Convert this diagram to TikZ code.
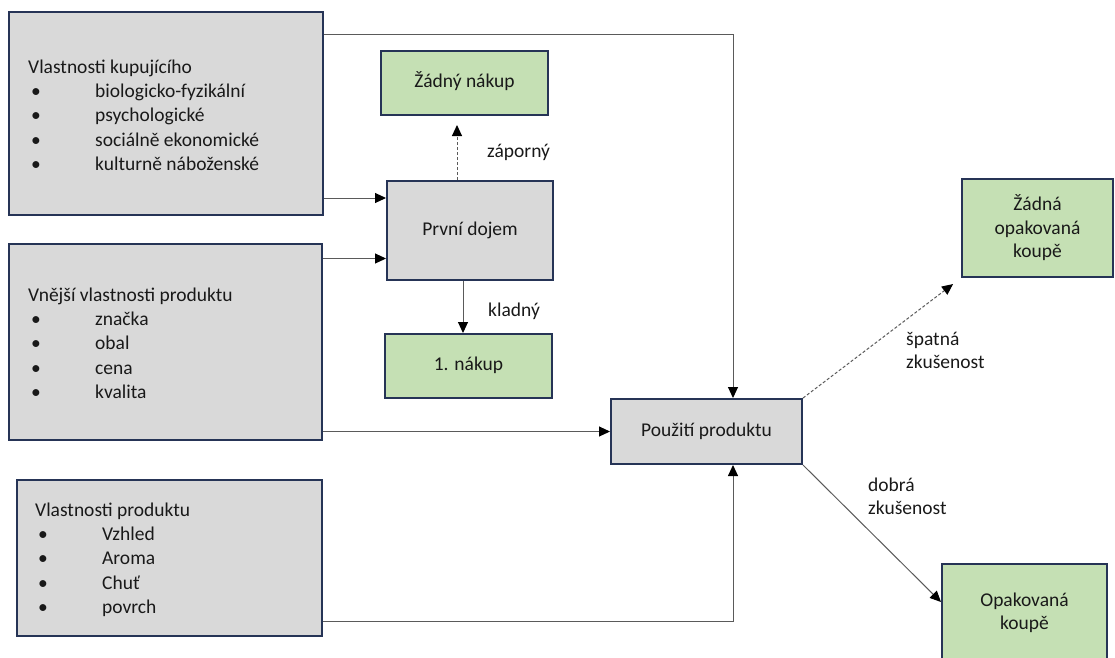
\documentclass[tikz,border=0pt]{standalone}
\usepackage{fontspec}
\setmainfont{Carlito}
\usetikzlibrary{arrows.meta}
\definecolor{boxgray}{RGB}{217,217,217}
\definecolor{boxgreen}{RGB}{197,224,180}
\definecolor{navy}{RGB}{38,52,86}
\definecolor{linegray}{RGB}{90,90,90}
\definecolor{txt}{RGB}{25,25,25}
\newcommand\bitem[1]{\hspace*{3pt}\makebox[64pt][l]{\textbullet}#1}
\tikzset{
  box/.style={draw=navy, line width=2pt, inner sep=0pt, text=txt, align=center,
    font=\fontsize{19.5}{23.5}\selectfont},
  oneline/.style={text height=13pt, text depth=4pt},
  graybox/.style={box, fill=boxgray},
  greenbox/.style={box, fill=boxgreen},
  listtext/.style={anchor=base west, inner sep=0pt, text=txt, font=\fontsize{19.5}{24.4}\selectfont},
  lbl/.style={anchor=base west, inner sep=0pt, text=txt, font=\fontsize{19.5}{23.5}\selectfont},
  arr/.style={draw=linegray, line width=1pt, -{Triangle[length=11pt,width=10pt,color=black]}},
  dashline/.style={dash pattern=on 3pt off 2pt}
}
\begin{document}
\begin{tikzpicture}[x=1pt,y=-1pt]
\useasboundingbox (0,0) rectangle (1115,657);
% left boxes
\node[graybox, minimum width=314pt, minimum height=203pt] (b1) at (166,113.5) {};
\node[graybox, minimum width=313pt, minimum height=196pt] (b2) at (165.5,342) {};
\node[graybox, minimum width=305pt, minimum height=156pt] (b3) at (169.5,558) {};
\node[listtext] (t1) at (28,73) {\begin{tabular}[t]{@{}l@{}}Vlastnosti kupujícího\\
\bitem{biologicko-fyzikální}\\ \bitem{psychologické}\\ \bitem{sociálně ekonomické}\\ \bitem{kulturně náboženské}\end{tabular}};
\node[listtext] (t2) at (28,301) {\begin{tabular}[t]{@{}l@{}}Vnější vlastnosti produktu\\
\bitem{značka}\\ \bitem{obal}\\ \bitem{cena}\\ \bitem{kvalita}\end{tabular}};
\node[listtext] (t3) at (35,516) {\begin{tabular}[t]{@{}l@{}}Vlastnosti produktu\\
\bitem{Vzhled}\\ \bitem{Aroma}\\ \bitem{Chuť}\\ \bitem{povrch}\end{tabular}};
% middle boxes
\node[greenbox, oneline, minimum width=167pt, minimum height=64pt] (zn) at (464.5,83) {Žádný nákup};
\node[graybox, oneline, minimum width=166pt, minimum height=99pt] (pd) at (470,230.5) {První dojem};
\node[greenbox, oneline, minimum width=167pt, minimum height=64pt] (n1) at (468.5,366) {1. nákup};
\node[graybox, oneline, minimum width=191pt, minimum height=65pt] (pu) at (706.5,431.5) {Použití produktu};
% right boxes
\node[greenbox, minimum width=151pt, minimum height=98pt] (zok) at (1037.5,228) {Žádná\\opakovaná\\koupě};
\node[greenbox, minimum width=165pt, minimum height=98pt] (ok) at (1024.5,613) {Opakovaná\\koupě};
% labels
\node[lbl] (lz) at (487,157) {záporný};
\node[lbl] (lk) at (488,316) {kladný};
\node[lbl] (ls) at (906,345) {\begin{tabular}[t]{@{}l@{}}špatná\\zkušenost\end{tabular}};
\node[lbl] (ld) at (868,491) {\begin{tabular}[t]{@{}l@{}}dobrá\\zkušenost\end{tabular}};
% connectors
\path ([yshift=32.5pt]pd.west) coordinate (p1);
\path ([yshift=-28pt]pd.west) coordinate (p2);
\draw[arr] (b1.east |- p1) -- (p1);
\draw[arr] (b2.east |- p2) -- (p2);
\path ([xshift=26.5pt]pu.north) coordinate (p3);
\path ([xshift=26.5pt]pu.south) coordinate (p4);
\draw[arr] ([yshift=-23pt]b1.north east) -| (p3);
\draw[arr] (b2.east |- pu.west) -- (pu.west);
\draw[arr] ([yshift=-63pt]b3.east) -| (p4);
\path ([xshift=-13pt]pd.north) coordinate (p5);
\draw[arr, dashline, shorten >=9pt] (p5) -- (p5 |- zn.south);
\path ([xshift=-7pt]pd.south) coordinate (p6);
\draw[arr] (p6) -- (p6 |- n1.north);
\draw[arr, dashline, shorten >=10pt] (pu.north east) -- (zok.south west);
\draw[arr] (pu.south east) -- ([yshift=11pt]ok.west);
\end{tikzpicture}
\end{document}
